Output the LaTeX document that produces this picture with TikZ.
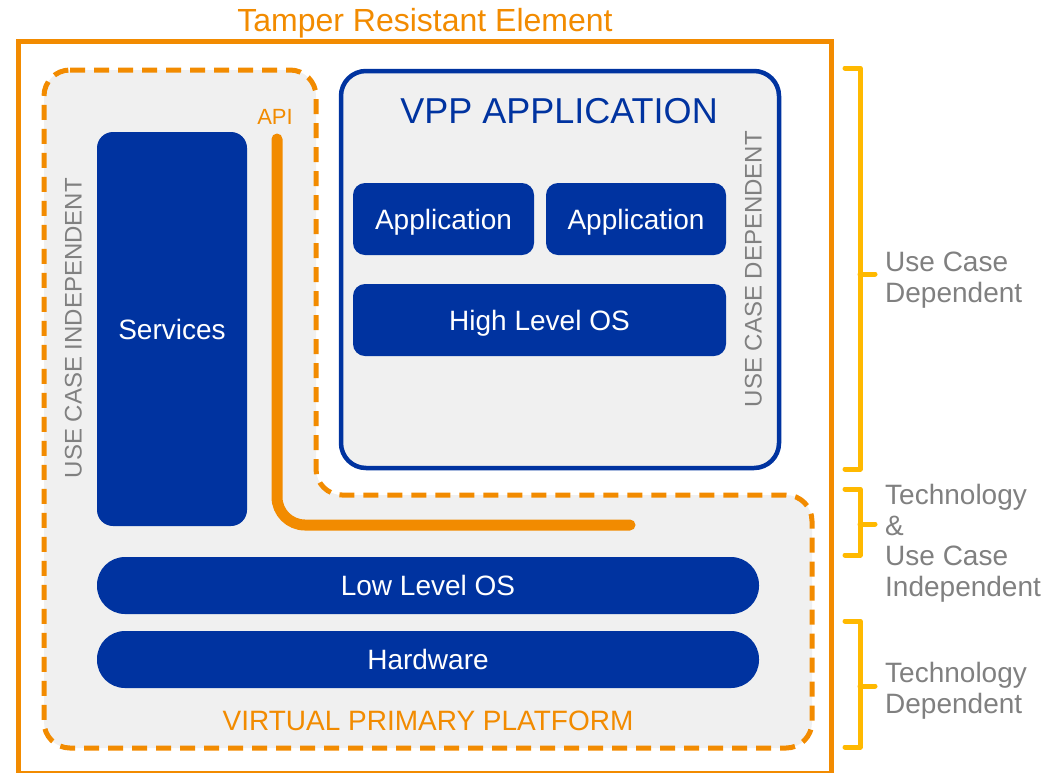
\documentclass[tikz,border=0pt]{standalone}
\usepackage{fontspec}
\setmainfont{Liberation Sans}
\definecolor{trOrange}{RGB}{242,139,0}
\definecolor{vppBlue}{RGB}{0,51,160}
\definecolor{panelGray}{RGB}{240,240,240}
\definecolor{noteGray}{RGB}{128,128,128}
\definecolor{braceYellow}{RGB}{255,185,0}
\tikzset{
  block/.style={fill=vppBlue, text=white, rounded corners=#1, inner sep=0pt, outer sep=0pt,
    font=\fontsize{28}{30}\selectfont, text height=20pt, text depth=0pt},
  sidelabel/.style={text=noteGray, inner sep=0pt, rotate=90,
    font=\fontsize{24}{26}\selectfont, text height=17pt, text depth=0pt},
  notelabel/.style={text=noteGray, inner sep=0pt, anchor=base west, align=left,
    font=\fontsize{28}{30.5}\selectfont},
  bracket/.style={draw=braceYellow, line width=5pt, line cap=round, line join=round},
}
\begin{document}
\begin{tikzpicture}[x=1pt, y=-1pt]
\useasboundingbox (0,0) rectangle (1059,772);
\clip (0,0) rectangle (1059,772);

% tamper resistant element frame
\draw[trOrange, line width=5pt] (18.5,41.5) rectangle (831.5,773.5);
\node[text=trOrange, anchor=base, inner sep=0pt, font=\fontsize{32}{34}\selectfont]
  (tre) at (425,31) {Tamper Resistant Element};

% virtual primary platform (L-shaped dashed region)
\draw[trOrange, fill=panelGray, line width=5pt, dash pattern=on 15pt off 9pt, rounded corners=26pt]
  (44,70) -- (316,70) -- (316,495) -- (812,495) -- (812,748) -- (44,748) -- cycle;

% VPP application frame
\draw[vppBlue, fill=panelGray, line width=4.5pt, rounded corners=25pt]
  (341,71) rectangle (779,468);
\node[text=vppBlue, anchor=base, inner sep=0pt, font=\fontsize{36}{38}\selectfont]
  (vpptitle) at (559,123) {VPP APPLICATION};

% building blocks
\node[block=16pt, minimum width=150pt, minimum height=394pt] (services) at (172,329) {Services};
\node[block=12pt, minimum width=181pt, minimum height=72pt] (app1) at (443.5,219) {Application};
\node[block=12pt, minimum width=180pt, minimum height=72pt] (app2) at (636,219) {Application};
\node[block=12pt, minimum width=373pt, minimum height=72pt] (hlos) at (539.5,320) {High Level OS};
\node[block=28pt, minimum width=662pt, minimum height=57pt] (llos) at (428,585.5) {Low Level OS};
\node[block=28pt, minimum width=662pt, minimum height=57pt] (hw) at (428,659.5) {Hardware};

% API interface line
\node[text=trOrange, anchor=base, inner sep=0pt, font=\fontsize{22}{24}\selectfont]
  (api) at (275,124) {API};
\coordinate (apiTop) at (277,139);
\coordinate (apiEnd) at (630,525);
\draw[trOrange, line width=11pt, line cap=round, rounded corners=28pt] (apiTop) |- (apiEnd);

\node[text=trOrange, anchor=base, inner sep=0pt, font=\fontsize{28}{30}\selectfont]
  (vpp) at (428,730) {VIRTUAL PRIMARY PLATFORM};

% vertical labels
\node[sidelabel] (ucind) at (73,328) {USE CASE INDEPENDENT};
\node[sidelabel] (ucdep) at (753,269) {USE CASE DEPENDENT};

% brackets and their notes
\draw[bracket] (845,68) -- (860,68) -- (860,469) -- (845,469);
\draw[bracket] (860,274) -- (875,274);
\draw[bracket] (845,489) -- (860,489) -- (860,555) -- (845,555);
\draw[bracket] (860,524) -- (875,524);
\draw[bracket] (845,621) -- (860,621) -- (860,747) -- (845,747);
\draw[bracket] (860,686) -- (875,686);

% the base anchor of a multi-line note sits on its last line
\node[notelabel] (note1) at (885,302) {Use Case\\Dependent};
\node[notelabel] (note2) at (885,596) {Technology\\\&\\Use Case\\Independent};
\node[notelabel] (note3) at (885,713) {Technology\\Dependent};
\end{tikzpicture}
\end{document}
